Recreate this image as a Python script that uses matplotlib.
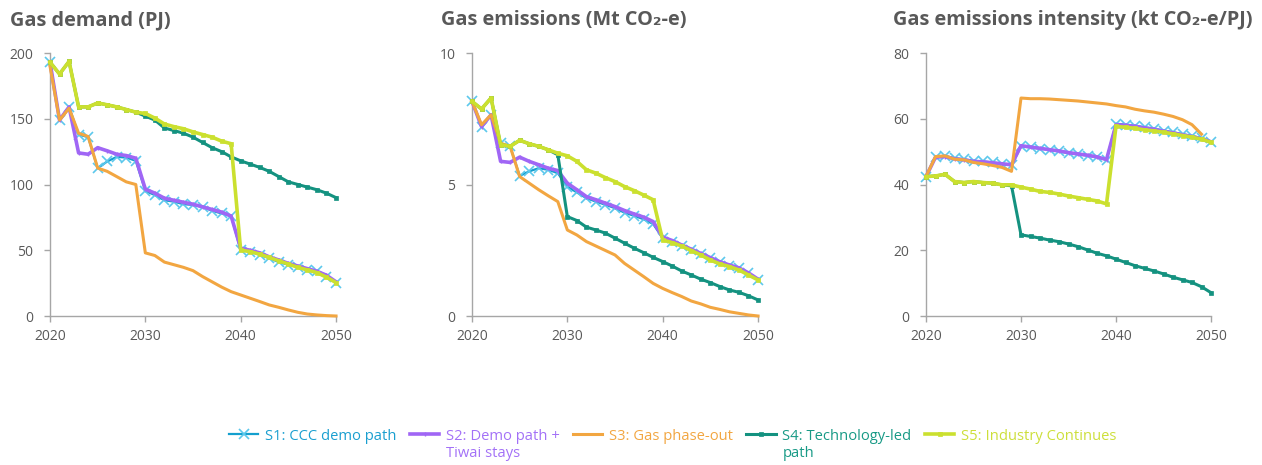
import matplotlib
matplotlib.use("Agg")
import matplotlib.pyplot as plt
import numpy as np

plt.rcParams['font.family'] = ['Open Sans', 'DejaVu Sans']

years = list(range(2020, 2051))

# ---- Gas demand (PJ) ----
demand_s1 = [193, 149, 159, 138, 136, 112.5, 117.5, 121, 120.5, 118, 95, 92, 88, 87, 85, 84.5, 83, 80, 78, 76,
             50, 49, 46.5, 44, 41, 39, 37.5, 35, 34, 30, 25.4]
demand_s2 = [193, 149, 159, 124, 123, 128, 125.6, 123, 122, 120, 96.5, 93.4, 89.6, 88, 86.5, 85, 83, 81, 79, 76,
             51.5, 50, 48, 45, 42.6, 40, 38, 36, 34, 31, 26]
demand_s3 = [190, 149, 158, 139, 136.5, 112.5, 110, 106, 102, 100, 48, 46, 41, 39, 37, 34.5, 30, 26, 22, 18.5,
             16, 13.5, 11, 8.4, 6.6, 4.6, 2.8, 1.5, 0.8, 0.3, 0]
demand_s4 = [193, 184, 193.6, 159, 159, 162, 160.6, 159, 157, 155, 152, 149, 143, 141, 139, 136, 132, 128, 125, 121,
             118, 115.5, 113, 110, 106, 102, 100, 98, 96, 93.4, 90]
demand_s5 = [193, 184, 193.6, 159, 159, 162, 160.6, 159, 157, 155, 154, 150.5, 146, 144, 142.4, 140, 138, 136, 133, 131,
             50, 49, 47, 44.5, 42, 39.5, 37, 35, 33, 29.5, 25.4]

# ---- Gas emissions (Mt CO2-e) ----
emis_s1 = [8.16, 7.2, 7.65, 6.57, 6.45, 5.33, 5.5, 5.62, 5.56, 5.43, 4.92, 4.7, 4.48, 4.35, 4.23, 4.1, 3.93, 3.81, 3.68, 3.5,
           2.96, 2.83, 2.66, 2.51, 2.36, 2.2, 2.04, 1.92, 1.81, 1.62, 1.37]
emis_s2 = [8.16, 7.2, 7.65, 5.88, 5.84, 6.04, 5.88, 5.75, 5.62, 5.53, 5.05, 4.8, 4.54, 4.42, 4.29, 4.16, 4.01, 3.88, 3.76, 3.59,
           3.0, 2.87, 2.7, 2.54, 2.38, 2.22, 2.06, 1.94, 1.83, 1.64, 1.4]
emis_s3 = [8.16, 7.27, 7.65, 6.57, 6.45, 5.3, 5.05, 4.8, 4.57, 4.35, 3.27, 3.08, 2.83, 2.66, 2.49, 2.32, 2.0, 1.75, 1.5, 1.24,
           1.05, 0.89, 0.74, 0.57, 0.46, 0.33, 0.25, 0.16, 0.1, 0.04, 0]
emis_s4 = [8.16, 7.87, 8.29, 6.51, 6.45, 6.68, 6.55, 6.45, 6.32, 6.13, 3.78, 3.63, 3.38, 3.27, 3.15, 2.96, 2.77, 2.58, 2.41, 2.23,
           2.07, 1.9, 1.71, 1.56, 1.4, 1.27, 1.12, 0.99, 0.9, 0.77, 0.61]
emis_s5 = [8.16, 7.87, 8.29, 6.51, 6.45, 6.68, 6.55, 6.45, 6.32, 6.19, 6.09, 5.88, 5.56, 5.43, 5.26, 5.11, 4.92, 4.77, 4.6, 4.42,
           2.89, 2.79, 2.66, 2.49, 2.32, 2.13, 1.98, 1.88, 1.75, 1.56, 1.37]

# ---- Gas emissions intensity (kt CO2-e/PJ) ----
inten_s1 = [42.4, 48.5, 48.7, 48.0, 47.7, 47.2, 47.0, 46.7, 46.3, 45.8, 51.6, 51.3, 50.9, 50.6, 50.1, 49.5, 49.2, 48.8, 48.3, 47.5,
            58.5, 58.2, 57.9, 57.4, 57.0, 56.4, 55.9, 55.3, 54.8, 54.1, 52.8]
inten_s2 = [42.4, 48.3, 48.5, 47.8, 47.5, 47.0, 46.9, 46.6, 46.3, 46.0, 51.8, 51.4, 51.0, 50.6, 50.2, 49.7, 49.3, 48.9, 48.4, 47.6,
            58.2, 58.0, 57.7, 57.2, 56.8, 56.2, 55.7, 55.1, 54.6, 53.9, 53.0]
inten_s3 = [42.4, 48.5, 48.7, 47.7, 47.5, 46.7, 46.3, 45.8, 45.2, 44.0, 66.3, 66.1, 66.1, 66.0, 65.8, 65.6, 65.4, 65.1, 64.8, 64.5,
            64.0, 63.6, 62.9, 62.4, 62.0, 61.4, 60.7, 59.7, 58.2, 55.3, np.nan]
inten_s4 = [42.4, 42.6, 43.1, 40.9, 40.6, 40.9, 40.6, 40.4, 39.9, 39.6, 24.7, 24.2, 23.7, 23.1, 22.6, 21.9, 21.1, 20.1, 19.1, 18.3,
            17.3, 16.3, 15.3, 14.5, 13.7, 12.8, 11.8, 11.0, 10.2, 8.9, 7.1]
inten_s5 = [42.4, 42.6, 43.1, 40.9, 40.6, 40.9, 40.6, 40.4, 39.9, 39.9, 39.2, 38.6, 37.9, 37.6, 37.1, 36.5, 36.0, 35.5, 35.0, 34.1,
            57.7, 57.4, 57.1, 56.6, 56.3, 55.9, 55.4, 54.9, 54.4, 53.8, 52.8]

series_labels = ["S1: CCC demo path", "S2: Demo path +\nTiwai stays", "S3: Gas phase-out",
                 "S4: Technology-led\npath", "S5: Industry Continues"]
titles = ["Gas demand (PJ)", "Gas emissions (Mt CO\u2082-e)", "Gas emissions intensity (kt CO\u2082-e/PJ)"]
ylims = [(0, 200, 50), (0, 10, 5), (0, 80, 20)]
xticks = [2020, 2030, 2040, 2050]

line_colors = ['#139fce', '#a066f5', '#f2a641', '#149280', '#cbe02f']
text_colors = ['#1a9fd0', '#a371f7', '#f2a641', '#189a86', '#cddf3a']
styles = [
    dict(lw=1.6, marker='x', ms=6.5, mew=1.2, mec='#5cc8ec'),
    dict(lw=2.6, marker='|', ms=3, mew=1.0),
    dict(lw=2.2, marker=None),
    dict(lw=2.2, marker='s', ms=2.2, mew=0.5),
    dict(lw=2.6, marker='s', ms=2.2, mew=0.5),
]

data = [
    [demand_s1, demand_s2, demand_s3, demand_s4, demand_s5],
    [emis_s1, emis_s2, emis_s3, emis_s4, emis_s5],
    [inten_s1, inten_s2, inten_s3, inten_s4, inten_s5],
]

W, H = 1262, 465
fig = plt.figure(figsize=(W / 100, H / 100), dpi=100)

lefts = [50, 472, 926]
widths = [286, 286, 285]
title_x = [10, 441, 893]
grey = '#595959'
spine_c = '#a6a6a6'

handles = []
for i in range(3):
    ax = fig.add_axes([lefts[i] / W, 1 - 316 / H, widths[i] / W, (316 - 53) / H])
    for j in range(5):
        ln, = ax.plot(years, data[i][j], color=line_colors[j], clip_on=False, zorder=2 + j, **styles[j])
        if i == 0:
            handles.append(ln)
    lo, hi, step = ylims[i]
    ax.set_ylim(lo, hi)
    ax.set_yticks(np.arange(lo, hi + step / 2, step))
    ax.set_xlim(2020, 2050)
    ax.set_xticks(xticks)
    for s in ['top', 'right']:
        ax.spines[s].set_visible(False)
    for s in ['left', 'bottom']:
        ax.spines[s].set_color(spine_c)
        ax.spines[s].set_linewidth(1.0)
    ax.tick_params(axis='both', colors=spine_c, labelcolor=grey, labelsize=10, length=4, width=1.0)
    ax.tick_params(axis='y', pad=8)
    ax.tick_params(axis='x', pad=5)
    fig.text(title_x[i] / W, 1 - 20 / H, titles[i], ha='left', va='center',
             fontsize=14.3, fontweight='bold', color=grey)

leg = fig.legend(handles, series_labels, loc='upper center', bbox_to_anchor=(0.533, 1 - 429 / H),
                 ncol=5, frameon=False, fontsize=10.6, handlelength=2.0, handletextpad=0.45,
                 columnspacing=0.9, labelcolor=text_colors, borderpad=0.0, borderaxespad=0.0)
leg._legend_handle_box.align = 'top'
for col in leg._legend_handle_box.get_children():
    col.align = 'left'
    for hp in col.get_children():
        hp.align = 'top'

fig.savefig('out.png', dpi=100)
